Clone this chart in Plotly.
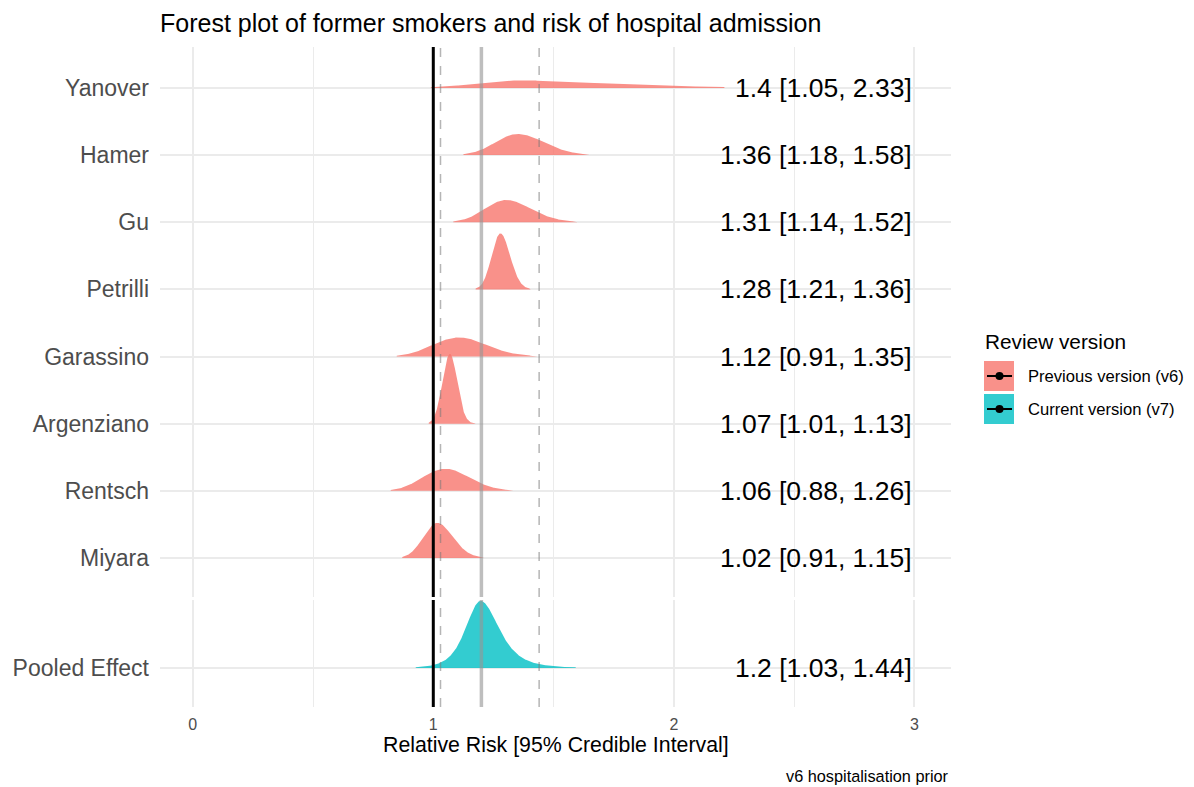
import numpy as np
import plotly.graph_objects as go

# ---------------- data ----------------
studies = ["Yanover", "Hamer", "Gu", "Petrilli", "Garassino", "Argenziano", "Rentsch", "Miyara"]
study_rr = [1.40, 1.36, 1.31, 1.28, 1.12, 1.07, 1.06, 1.02]
study_lo = [1.05, 1.18, 1.14, 1.21, 0.91, 1.01, 0.88, 0.91]
study_hi = [2.33, 1.58, 1.52, 1.36, 1.35, 1.13, 1.26, 1.15]
# range over which each posterior density is drawn
study_ext_lo = [0.99, 1.125, 1.083, 1.176, 0.848, 0.981, 0.823, 0.871]
study_ext_hi = [2.21, 1.650, 1.600, 1.405, 1.433, 1.176, 1.333, 1.210]

pooled_label = "Pooled Effect"
pooled_rr = 1.20
pooled_lo = 1.03
pooled_hi = 1.44
pooled_ext = [0.927, 1.592]
pooled_df = 4  # heavier-tailed pooled posterior

null_value = 1.0
x_ticks = [0, 1, 2, 3]
x_minor = [0.5, 1.5, 2.5]

col_prev = "rgba(248,118,109,0.8)"
col_curr = "rgba(0,191,196,0.8)"
FONT = "Liberation Sans, Arial, sans-serif"

# ---------------- geometry ----------------
W, H = 1194, 787
L, R, T, B = 160, 951, 47, 707
PH = B - T


def px_x(p):
    return (p - L) / (R - L)


def px_y(p):
    return (B - p) / PH


def density(m, lo, hi, xs, df=None):
    """split (normal or t) posterior on log scale, expressed on RR scale"""
    q = 1.96
    if df is not None:
        q = {3: 3.182, 4: 2.776, 5: 2.571}[df]
    mu = np.log(m)
    s_lo = (mu - np.log(lo)) / q
    s_hi = (np.log(hi) - mu) / q
    lx = np.log(xs)
    s = np.where(lx < mu, s_lo, s_hi)
    z = (lx - mu) / s
    if df is None:
        k = np.exp(-0.5 * z ** 2)
    else:
        k = (1 + z ** 2 / df) ** (-(df + 1) / 2)
    return k / (s_lo + s_hi) / xs


fig = go.Figure()

# top panel ridges
n = len(studies)
row_pos = list(range(n, 0, -1))
curves = []
for i in range(n):
    xs = np.linspace(study_ext_lo[i], study_ext_hi[i], 400)
    curves.append((xs, density(study_rr[i], study_lo[i], study_hi[i], xs)))
top_max = max(c[1].max() for c in curves)
top_scale = 1.04 / top_max
for i in range(n):
    xs, d = curves[i]
    base = row_pos[i]
    fig.add_trace(go.Scatter(
        x=np.concatenate([xs, xs[::-1]]),
        y=np.concatenate([base + d * top_scale, np.full(len(xs), base)]),
        fill="toself", fillcolor=col_prev, mode="lines", line=dict(width=0),
        xaxis="x2", yaxis="y2", showlegend=False, hoverinfo="skip"))

# bottom panel ridge
xs = np.linspace(pooled_ext[0], pooled_ext[1], 400)
d = density(pooled_rr, pooled_lo, pooled_hi, xs, df=pooled_df)
bot_scale = 1.0 / d.max()
fig.add_trace(go.Scatter(
    x=np.concatenate([xs, xs[::-1]]),
    y=np.concatenate([1 + d * bot_scale, np.full(len(xs), 1)]),
    fill="toself", fillcolor=col_curr, mode="lines", line=dict(width=0),
    xaxis="x", yaxis="y", showlegend=False, hoverinfo="skip"))

# ---------------- reference lines ----------------
shapes = []
for xr, yr in [("x", "y"), ("x2", "y2")]:
    for xv in [pooled_lo, pooled_hi]:
        shapes.append(dict(type="line", xref=xr, yref=yr + " domain", x0=xv, x1=xv, y0=0, y1=1,
                           line=dict(color="rgba(120,120,120,0.55)", width=1.5, dash="dash"),
                           layer="above"))
    shapes.append(dict(type="line", xref=xr, yref=yr + " domain", x0=pooled_rr, x1=pooled_rr, y0=0, y1=1,
                       line=dict(color="rgba(150,150,150,0.62)", width=3.5), layer="above"))
    shapes.append(dict(type="line", xref=xr, yref=yr + " domain", x0=null_value, x1=null_value, y0=0, y1=1,
                       line=dict(color="black", width=3), layer="above"))

# ---------------- annotations ----------------
annotations = []
for i in range(n):
    annotations.append(dict(
        x=3, y=row_pos[i], xref="x2", yref="y2", xanchor="right", yanchor="middle",
        text=f"{study_rr[i]:g} [{study_lo[i]:g}, {study_hi[i]:g}]", showarrow=False,
        font=dict(family=FONT, size=26.5, color="black")))
annotations.append(dict(
    x=3, y=1, xref="x", yref="y", xanchor="right", yanchor="middle",
    text=f"{pooled_rr:g} [{pooled_lo:g}, {pooled_hi:g}]", showarrow=False,
    font=dict(family=FONT, size=26.5, color="black")))

annotations.append(dict(x=0.5, y=px_y(745), xref="paper", yref="paper", xanchor="center",
                        yanchor="middle", text="Relative Risk [95% Credible Interval]",
                        showarrow=False, font=dict(family=FONT, size=21.3, color="black")))
annotations.append(dict(x=1.0, y=px_y(776), xref="paper", yref="paper", xanchor="right",
                        yanchor="middle", text="v6 hospitalisation prior",
                        showarrow=False, font=dict(family=FONT, size=16.3, color="black")))

# ---------------- legend (manual) ----------------
annotations.append(dict(x=px_x(983), y=px_y(341), xref="paper", yref="paper", xanchor="left",
                        yanchor="middle", text="Review version", showarrow=False,
                        font=dict(family=FONT, size=20.8, color="black")))
legend_items = [("Previous version (v6)", col_prev), ("Current version (v7)", col_curr)]
for k, (lab, col) in enumerate(legend_items):
    top = 361 + 33 * k
    cy = top + 15
    shapes.append(dict(type="rect", xref="paper", yref="paper", x0=px_x(984), x1=px_x(1014),
                       y0=px_y(top), y1=px_y(top + 30), fillcolor=col, line=dict(width=0)))
    shapes.append(dict(type="line", xref="paper", yref="paper", x0=px_x(987), x1=px_x(1012),
                       y0=px_y(cy), y1=px_y(cy), line=dict(color="black", width=2)))
    shapes.append(dict(type="circle", xref="paper", yref="paper", x0=px_x(995.5), x1=px_x(1003.5),
                       y0=px_y(cy - 4), y1=px_y(cy + 4), fillcolor="black", line=dict(width=0)))
    annotations.append(dict(x=px_x(1026), y=px_y(cy), xref="paper", yref="paper", xanchor="left",
                            yanchor="middle", text=lab, showarrow=False,
                            font=dict(family=FONT, size=16.6, color="black")))

# ---------------- layout ----------------
grid = "#EBEBEB"
xcommon = dict(range=[-0.136, 3.152], tickvals=x_ticks, ticktext=[str(t) for t in x_ticks],
               showgrid=True, gridcolor=grid, gridwidth=1.6, zeroline=False, showline=False,
               ticks="", minor=dict(tickvals=x_minor, showgrid=True, gridcolor=grid, gridwidth=1.2),
               fixedrange=True)
ycommon = dict(showgrid=True, gridcolor=grid, gridwidth=1.6, zeroline=False, showline=False,
               ticks="", tickfont=dict(family=FONT, size=23, color="#4D4D4D"), ticklabelstandoff=10,
               fixedrange=True)

fig.update_layout(
    width=W, height=H,
    margin=dict(l=L, r=W - R, t=T, b=H - B),
    paper_bgcolor="white", plot_bgcolor="white",
    showlegend=False,
    title=dict(text="Forest plot of former smokers and risk of hospital admission",
               x=0, xref="paper", xanchor="left", y=(H - 23) / H, yref="container", yanchor="middle",
               font=dict(family=FONT, size=25, color="black")),
    xaxis=dict(**xcommon, anchor="y", domain=[0, 1],
               tickfont=dict(family=FONT, size=16, color="#4D4D4D"), ticklabelstandoff=6),
    xaxis2=dict(**xcommon, anchor="y2", domain=[0, 1], matches="x", showticklabels=False),
    yaxis=dict(**ycommon, domain=[0, px_y(600)], range=[0.419, 2.013], tickvals=[1],
               ticktext=[pooled_label]),
    yaxis2=dict(**ycommon, domain=[px_y(597), 1], range=[0.419, 8.61], tickvals=row_pos,
                ticktext=studies),
    shapes=shapes,
    annotations=annotations,
)

fig.write_html("out.html")
